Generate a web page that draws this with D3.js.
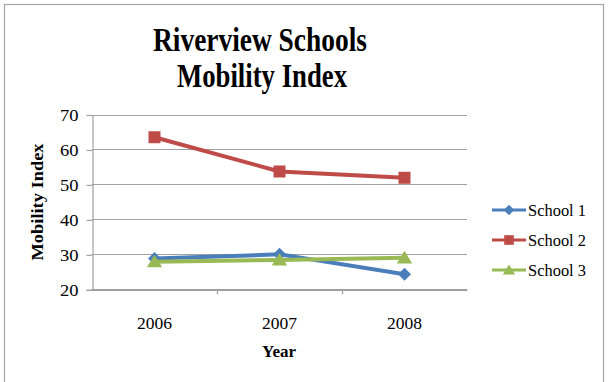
<!DOCTYPE html>
<html>
<head>
<meta charset="utf-8">
<script src="https://cdn.jsdelivr.net/npm/d3@7"></script>
<style>
  body { margin: 0; background: #fff; }
  svg { display: block; }
</style>
</head>
<body>
<div id="chart"></div>
<script>
var years = ["2006", "2007", "2008"];
var school1 = [28.8, 30.0, 24.3];
var school2 = [63.5, 53.7, 51.9];
var school3 = [27.9, 28.4, 29.0];
var yTicks = [20, 30, 40, 50, 60, 70];
var seriesNames = ["School 1", "School 2", "School 3"];

// excel-ish marker shapes, sized by half-width r
var diamond = { draw: function(ctx, r) { ctx.moveTo(0, -r); ctx.lineTo(r, 0); ctx.lineTo(0, r); ctx.lineTo(-r, 0); ctx.closePath(); } };
var square = { draw: function(ctx, r) { ctx.rect(-r, -r, 2 * r, 2 * r); } };
var triangle = { draw: function(ctx, r) { ctx.moveTo(0, -r); ctx.lineTo(r * 1.1, r * 0.8); ctx.lineTo(-r * 1.1, r * 0.8); ctx.closePath(); } };

var series = [
    { name: seriesNames[0], values: school1, color: "#4a7ebb", shape: diamond, size: 6.5 },
    { name: seriesNames[1], values: school2, color: "#be4b48", shape: square, size: 6 },
    { name: seriesNames[2], values: school3, color: "#98b954", shape: triangle, size: 7 }
];

var width = 610, height = 382;
var plot = { left: 92, right: 467, top: 114.5, bottom: 289.3 };

var svg = d3.select("#chart").append("svg")
    .attr("width", width)
    .attr("height", height);

svg.append("rect")
    .attr("x", 4.5).attr("y", 4.5)
    .attr("width", 599).attr("height", 390)
    .attr("fill", "#fff")
    .attr("stroke", "#a6a6a6")
    .attr("stroke-width", 1.2);

var x = d3.scaleBand().domain(years).range([plot.left, plot.right]);
var y = d3.scaleLinear().domain([20, 70]).range([plot.bottom, plot.top]);

// gridlines
svg.append("g").selectAll("line")
    .data(yTicks)
    .enter().append("line")
    .attr("x1", plot.left).attr("x2", plot.right)
    .attr("y1", function(d) { return Math.round(y(d)) + 0.5; })
    .attr("y2", function(d) { return Math.round(y(d)) + 0.5; })
    .attr("stroke", "#a0a0a0")
    .attr("stroke-width", 1.2);

// y axis
var yAxis = svg.append("g")
    .attr("transform", "translate(" + (plot.left + 0.5) + ",0.5)")
    .call(d3.axisLeft(y).tickValues(yTicks).tickSize(6).tickPadding(8));
yAxis.select(".domain").attr("stroke", "#a0a0a0").attr("stroke-width", 1.2);
yAxis.selectAll(".tick line").attr("stroke", "#a0a0a0").attr("stroke-width", 1.2);
yAxis.selectAll(".tick text")
    .attr("font-family", "'Liberation Serif', serif")
    .attr("font-size", 17)
    .attr("fill", "#000")
    .attr("textLength", 18.5)
    .attr("lengthAdjust", "spacingAndGlyphs");

// x axis
var xAxis = svg.append("g")
    .attr("transform", "translate(0," + (plot.bottom + 0.5) + ")")
    .call(d3.axisBottom(x).tickSize(0).tickPadding(27));
xAxis.select(".domain").attr("stroke", "#a0a0a0").attr("stroke-width", 1.2);
xAxis.selectAll(".tick text")
    .attr("font-family", "'Liberation Serif', serif")
    .attr("font-size", 17)
    .attr("fill", "#000")
    .attr("textLength", 35)
    .attr("lengthAdjust", "spacingAndGlyphs");

// category separators
svg.append("g").selectAll("line")
    .data(years.slice(1))
    .enter().append("line")
    .attr("x1", function(d) { return Math.round(x(d)) + 0.5; })
    .attr("x2", function(d) { return Math.round(x(d)) + 0.5; })
    .attr("y1", plot.bottom)
    .attr("y2", plot.bottom + 5)
    .attr("stroke", "#a0a0a0")
    .attr("stroke-width", 1.2);

var cx = function(i) { return x(years[i]) + x.bandwidth() / 2; };
var line = d3.line()
    .x(function(d, i) { return cx(i); })
    .y(function(d) { return y(d); });

var seriesG = svg.append("g").selectAll("g")
    .data(series)
    .enter().append("g");

seriesG.append("path")
    .attr("d", function(s) { return line(s.values); })
    .attr("fill", "none")
    .attr("stroke", function(s) { return s.color; })
    .attr("stroke-width", 4)
    .attr("stroke-linejoin", "round");

seriesG.each(function(s) {
    d3.select(this).selectAll("path.marker")
        .data(s.values)
        .enter().append("path")
        .attr("class", "marker")
        .attr("d", d3.symbol().type(s.shape).size(s.size))
        .attr("transform", function(d, i) {
            return "translate(" + cx(i) + "," + y(d) + ")";
        })
        .attr("fill", s.color);
});

// legend
var legend = svg.append("g").selectAll("g")
    .data(series)
    .enter().append("g")
    .attr("transform", function(s, i) { return "translate(492," + (210 + i * 30) + ")"; });

legend.append("line")
    .attr("x1", 0).attr("x2", 34)
    .attr("stroke", function(s) { return s.color; })
    .attr("stroke-width", 3);

legend.append("path")
    .attr("d", function(s) { return d3.symbol().type(s.shape).size(s.size * 0.8)(); })
    .attr("transform", "translate(17,0)")
    .attr("fill", function(s) { return s.color; });

legend.append("text")
    .attr("x", 36).attr("y", 6)
    .attr("font-family", "'Liberation Serif', serif")
    .attr("font-size", 17)
    .attr("fill", "#000")
    .attr("textLength", 58)
    .attr("lengthAdjust", "spacingAndGlyphs")
    .text(function(s) { return s.name; });

// title
var title = svg.append("text")
    .attr("text-anchor", "middle")
    .attr("font-family", "'Liberation Serif', serif")
    .attr("font-weight", "bold")
    .attr("font-size", 33)
    .attr("fill", "#000");
title.append("tspan").attr("x", 260).attr("y", 51)
    .attr("textLength", 214).attr("lengthAdjust", "spacingAndGlyphs")
    .text("Riverview Schools");
title.append("tspan").attr("x", 262).attr("y", 87)
    .attr("textLength", 170).attr("lengthAdjust", "spacingAndGlyphs")
    .text("Mobility Index");

// axis titles
svg.append("text")
    .attr("x", 279).attr("y", 357)
    .attr("text-anchor", "middle")
    .attr("font-family", "'Liberation Serif', serif")
    .attr("font-weight", "bold")
    .attr("font-size", 17)
    .attr("fill", "#000")
    .attr("textLength", 34)
    .attr("lengthAdjust", "spacingAndGlyphs")
    .text("Year");

svg.append("text")
    .attr("transform", "translate(43,202) rotate(-90)")
    .attr("text-anchor", "middle")
    .attr("font-family", "'Liberation Serif', serif")
    .attr("font-weight", "bold")
    .attr("font-size", 17)
    .attr("fill", "#000")
    .attr("textLength", 117)
    .attr("lengthAdjust", "spacingAndGlyphs")
    .text("Mobility Index");
</script>
</body>
</html>
